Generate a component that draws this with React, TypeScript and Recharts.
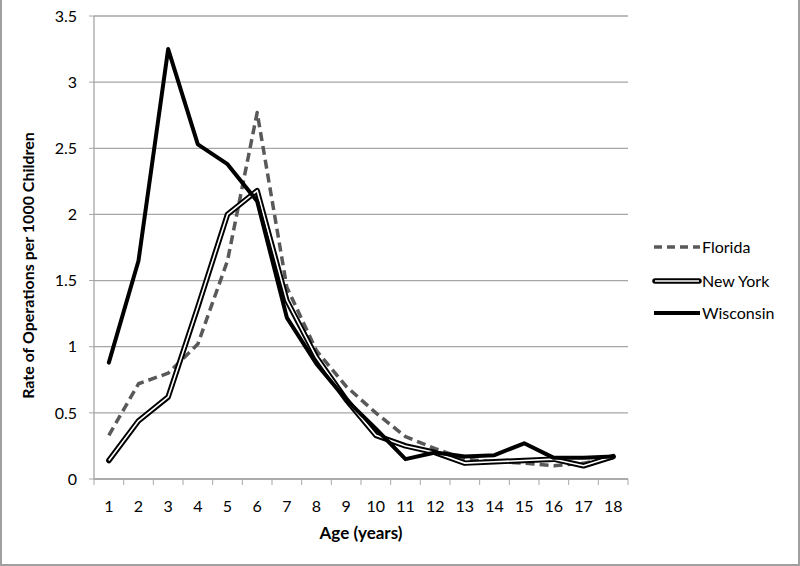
import React from "react";
import { LineChart, Line, XAxis, YAxis, CartesianGrid } from "recharts";

const ages = [1, 2, 3, 4, 5, 6, 7, 8, 9, 10, 11, 12, 13, 14, 15, 16, 17, 18];
const florida = [0.33, 0.72, 0.8, 1.02, 1.65, 2.77, 1.45, 0.97, 0.7, 0.5, 0.32, 0.23, 0.15, 0.13, 0.12, 0.1, 0.12, 0.16];
const newYork = [0.14, 0.44, 0.62, 1.3, 2.0, 2.18, 1.35, 0.92, 0.6, 0.33, 0.25, 0.2, 0.12, 0.13, 0.14, 0.15, 0.1, 0.17];
const wisconsin = [0.88, 1.65, 3.25, 2.53, 2.38, 2.1, 1.22, 0.87, 0.6, 0.38, 0.15, 0.2, 0.17, 0.18, 0.27, 0.16, 0.16, 0.17];
const yTicks = [0, 0.5, 1, 1.5, 2, 2.5, 3, 3.5];

const data = ages.map((a, i) => ({
  age: a,
  fl: florida[i],
  ny: newYork[i],
  wi: wisconsin[i],
}));

const W = 800;
const H = 566;
const M = { top: 16, right: 172, bottom: 57, left: 34 };
const Y_W = 60;
const band = (W - M.left - Y_W - M.right) / ages.length;
const FONT = "Lato, 'Open Sans', sans-serif";
const GRID = "#a6a6a6";

function AgeTick(props: any) {
  const { x, y, payload, index } = props;
  const half = band / 2;
  return (
    <g>
      {index === 0 && <line x1={x - half} x2={x - half} y1={y - 8} y2={y - 2} stroke={GRID} />}
      <line x1={x + half} x2={x + half} y1={y - 8} y2={y - 2} stroke={GRID} />
      <text x={x} y={y + 25} textAnchor="middle" fontSize={16} fill="#000" fontFamily={FONT}>
        {payload.value}
      </text>
    </g>
  );
}

// y title sits a bit below the plot's middle, like the original
function YTitle(props: any) {
  const vb = props.viewBox || {};
  const x = vb.x - 7;
  const y = vb.y + vb.height / 2 + 18;
  return (
    <text
      x={x}
      y={y}
      transform={`rotate(-90 ${x} ${y})`}
      textAnchor="middle"
      dominantBaseline="central"
      fontSize={16}
      fontWeight="bold"
      fontFamily={FONT}
      fill="#000"
    >
      Rate of Operations per 1000 Children
    </text>
  );
}

// custom legend: New York needs the double (outlined) line sample
function LegendBox() {
  const rows = [
    { name: "Florida", kind: "fl", y: 10 },
    { name: "New York", kind: "ny", y: 44 },
    { name: "Wisconsin", kind: "wi", y: 76 },
  ];
  return (
    <svg width={150} height={90}>
      {rows.map((r) => {
        const yy = r.y;
        return (
          <g key={r.name}>
            {r.kind === "fl" && (
              <line x1={2} x2={48} y1={yy} y2={yy} stroke="#595959" strokeWidth={3.5} strokeDasharray="8 5" />
            )}
            {r.kind === "ny" && (
              <g>
                <line x1={3} x2={47} y1={yy} y2={yy} stroke="#000" strokeWidth={5.5} strokeLinecap="round" />
                <line x1={3} x2={47} y1={yy} y2={yy} stroke="#fff" strokeWidth={1.6} />
              </g>
            )}
            {r.kind === "wi" && (
              <line x1={2} x2={48} y1={yy} y2={yy} stroke="#000" strokeWidth={4} />
            )}
            <text x={50} y={yy + 5.5} fontSize={16} fontFamily={FONT} fill="#000">
              {r.name}
            </text>
          </g>
        );
      })}
    </svg>
  );
}

export default function App() {
  return (
    <div
      style={{
        position: "absolute",
        left: 0,
        top: 0,
        width: W,
        height: H,
        boxSizing: "border-box",
        border: "2px solid #a0a0a0",
        borderTop: "none",
        background: "#fff",
      }}
    >
      <div style={{ position: "absolute", left: -2, top: 0 }}>
        <LineChart width={W} height={H} data={data} margin={M}>
          <CartesianGrid horizontal vertical={false} stroke={GRID} strokeWidth={1.3} />
          <XAxis
            dataKey="age"
            type="category"
            padding={{ left: band / 2, right: band / 2 }}
            axisLine={{ stroke: GRID, strokeWidth: 1.3 }}
            tickLine={false}
            tick={<AgeTick />}
            interval={0}
            height={30}
            label={{ value: "Age (years)", position: "insideBottom", offset: -30, fontSize: 17, fontWeight: "bold", fill: "#000", fontFamily: FONT }}
          />
          <YAxis
            type="number"
            domain={[0, 3.5]}
            ticks={yTicks}
            width={Y_W}
            axisLine={{ stroke: GRID, strokeWidth: 1.3 }}
            tickLine={{ stroke: GRID }}
            tickSize={5}
            tickMargin={12}
            tick={{ fontSize: 16, fill: "#000", fontFamily: FONT }}
            label={<YTitle />}
          />
          <Line dataKey="fl" name="Florida" stroke="#595959" strokeWidth={3.5} strokeDasharray="9 5" dot={false} isAnimationActive={false} strokeLinejoin="round" />
          <Line dataKey="ny" name="New York" stroke="#000" strokeWidth={5.5} dot={false} isAnimationActive={false} strokeLinejoin="round" strokeLinecap="round" />
          <Line dataKey="ny" name="New York inner" stroke="#fff" strokeWidth={1.6} dot={false} isAnimationActive={false} strokeLinejoin="round" />
          <Line dataKey="wi" name="Wisconsin" stroke="#000" strokeWidth={4} dot={false} isAnimationActive={false} strokeLinejoin="round" strokeLinecap="round" />
        </LineChart>
      </div>
      <div style={{ position: "absolute", left: 650, top: 237 }}>
        <LegendBox />
      </div>
    </div>
  );
}
